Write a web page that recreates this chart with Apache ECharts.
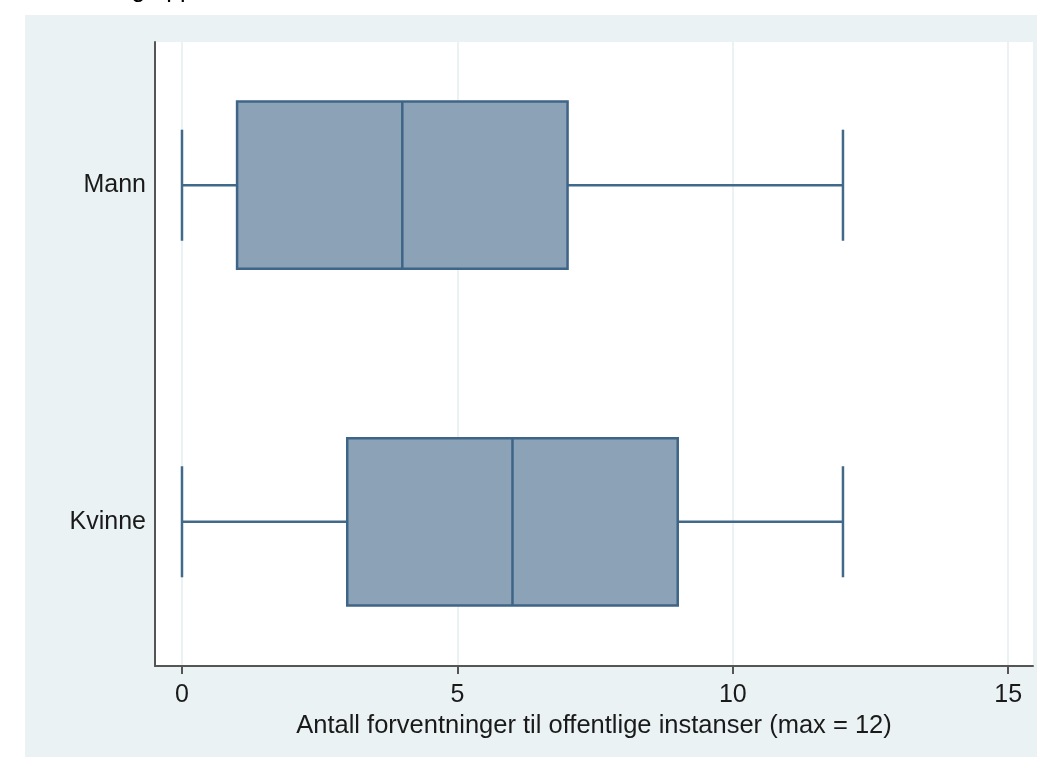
<!DOCTYPE html>
<html>
<head>
<meta charset="utf-8">
<script src="https://cdn.jsdelivr.net/npm/echarts@6/dist/echarts.min.js"></script>
<style>
html,body{margin:0;padding:0;background:#ffffff;}
#main{width:1037px;height:757px;}
</style>
</head>
<body>
<div id="main"></div>
<script>
// Data
const categories = ['Kvinne', 'Mann'];
const categoryPos = [0, 1];
// [min, Q1, median, Q3, max]
const boxKvinne = [0, 3, 6, 9, 12];
const boxMann = [0, 1, 4, 7, 12];
const boxes = [boxKvinne, boxMann];
const xTicks = [0, 5, 10, 15];
const xTitle = 'Antall forventninger til offentlige instanser (max = 12)';

const FONT = '"Liberation Sans", Arial, sans-serif';
const boxFill = '#8BA2B7';
const boxStroke = '#3E6587';
const halfBox = 0.2485;
const halfCap = 0.165;

const seriesData = boxes.map((b, i) => [categoryPos[i]].concat(b));

const chart = echarts.init(document.getElementById('main'), null, {renderer: 'canvas'});
chart.setOption({
  backgroundColor: '#ffffff',
  animation: false,
  graphic: [
    {type: 'rect', z: -10, shape: {x: 25, y: 15, width: 1012, height: 742}, style: {fill: '#EAF2F3'}},
    {type: 'text', z: 10, left: 112, top: -22, style: {text: 'ing app', fill: '#000', font: '25px ' + FONT}}
  ],
  grid: {left: 155, top: 42, right: 4, bottom: 91, show: true, backgroundColor: '#ffffff', borderWidth: 0},
  xAxis: {
    type: 'value', min: -0.49, max: 15.45,
    axisLine: {show: true, onZero: false, lineStyle: {color: '#555', width: 2}},
    axisTick: {show: true, customValues: xTicks, length: 8, lineStyle: {color: '#555', width: 2}},
    axisLabel: {show: true, customValues: xTicks, color: '#1a1a1a', fontSize: 25, fontFamily: FONT, margin: 17},
    splitLine: {show: false},
    name: xTitle, nameLocation: 'middle', nameGap: 45,
    nameTextStyle: {color: '#1a1a1a', fontSize: 25.5, fontFamily: FONT}
  },
  yAxis: {
    type: 'value', min: -0.4286, max: 1.4256,
    axisLine: {show: true, onZero: false, lineStyle: {color: '#555', width: 2}},
    axisTick: {show: false},
    axisLabel: {show: true, customValues: categoryPos, formatter: v => categories[Math.round(v)], color: '#1a1a1a', fontSize: 25, fontFamily: FONT, margin: 9},
    splitLine: {show: false}
  },
  series: [{
    type: 'custom',
    data: seriesData,
    encode: {x: [1, 2, 3, 4, 5], y: 0},
    markLine: {
      silent: true, symbol: 'none', label: {show: false}, z: 0,
      lineStyle: {color: '#E4EEF0', width: 1.5, type: 'solid'},
      data: xTicks.map(v => ({xAxis: v}))
    },
    renderItem: function (params, api) {
      const yv = api.value(0);
      const mn = api.value(1), q1 = api.value(2), md = api.value(3), q3 = api.value(4), mx = api.value(5);
      const pTop = api.coord([q1, yv + halfBox]);
      const pBot = api.coord([q3, yv - halfBox]);
      const pMin = api.coord([mn, yv]);
      const pMax = api.coord([mx, yv]);
      const pQ1 = api.coord([q1, yv]);
      const pQ3 = api.coord([q3, yv]);
      const pMd = api.coord([md, yv]);
      const capTop = api.coord([mn, yv + halfCap])[1];
      const capBot = api.coord([mn, yv - halfCap])[1];
      const ls = {stroke: boxStroke, lineWidth: 2.5};
      const ls2 = {stroke: '#41698A', lineWidth: 2.5};
      return {
        type: 'group',
        children: [
          {type: 'line', shape: {x1: pMin[0], y1: pMin[1], x2: pQ1[0], y2: pQ1[1]}, style: ls2},
          {type: 'line', shape: {x1: pQ3[0], y1: pQ3[1], x2: pMax[0], y2: pMax[1]}, style: ls2},
          {type: 'line', shape: {x1: pMin[0], y1: capTop, x2: pMin[0], y2: capBot}, style: ls2},
          {type: 'line', shape: {x1: pMax[0], y1: capTop, x2: pMax[0], y2: capBot}, style: ls2},
          {type: 'rect', shape: {x: pTop[0], y: pTop[1], width: pBot[0] - pTop[0], height: pBot[1] - pTop[1]}, style: {fill: boxFill, stroke: boxStroke, lineWidth: 2.5}},
          {type: 'line', shape: {x1: pMd[0], y1: pTop[1], x2: pMd[0], y2: pBot[1]}, style: ls}
        ]
      };
    }
  }]
});
</script>
</body>
</html>
